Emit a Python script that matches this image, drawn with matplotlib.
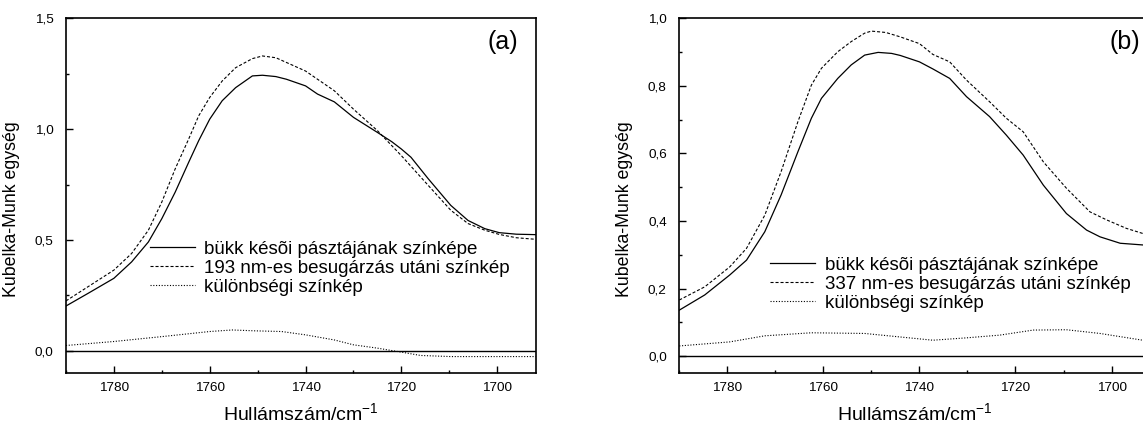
import numpy as np
import matplotlib
matplotlib.use('Agg')
import matplotlib.pyplot as plt
from matplotlib.ticker import MultipleLocator, FuncFormatter

plt.rcParams['font.family'] = ['Liberation Sans', 'DejaVu Sans']
plt.rcParams['mathtext.fontset'] = 'custom'
plt.rcParams['mathtext.rm'] = 'Liberation Sans'
plt.rcParams['mathtext.it'] = 'Liberation Sans:italic'

# panel (a): 193 nm
wn_a_solid = [1790, 1785.4, 1780, 1776.3, 1772.8, 1770, 1767.2, 1764.4, 1762.3, 1760,
              1757.4, 1754.6, 1751.1, 1749, 1746.2, 1744, 1740, 1737.5, 1734, 1730,
              1725, 1722, 1720, 1718, 1714.4, 1709.7, 1706.1, 1702.6, 1699.6, 1696, 1692]
km_a_solid = [0.202, 0.259, 0.327, 0.401, 0.491, 0.596, 0.716, 0.85, 0.948, 1.045,
              1.128, 1.187, 1.24, 1.243, 1.237, 1.225, 1.195, 1.158, 1.123, 1.053,
              0.985, 0.943, 0.91, 0.873, 0.776, 0.656, 0.588, 0.551, 0.533, 0.526, 0.524]

wn_a_dash = [1790, 1785.4, 1780, 1776.3, 1772.8, 1770, 1767.2, 1764.4, 1762.3, 1760,
             1757.4, 1754.6, 1751.1, 1749, 1746.2, 1740, 1734, 1730, 1725, 1720,
             1714.4, 1709.7, 1706.1, 1702.6, 1699.6, 1696, 1692]
km_a_dash = [0.225, 0.289, 0.364, 0.439, 0.544, 0.671, 0.821, 0.955, 1.06, 1.143,
             1.217, 1.277, 1.318, 1.33, 1.322, 1.262, 1.173, 1.09, 0.993, 0.88,
             0.746, 0.634, 0.574, 0.544, 0.525, 0.51, 0.503]

wn_a_diff = [1790, 1780, 1770, 1760, 1755.3, 1750.4, 1745, 1740, 1734, 1730,
             1725, 1720, 1716, 1709.7, 1700, 1692]
km_a_diff = [0.024, 0.042, 0.064, 0.087, 0.094, 0.090, 0.087, 0.072, 0.049, 0.027,
             0.012, -0.006, -0.021, -0.026, -0.026, -0.026]

# panel (b): 337 nm
wn_b_solid = [1790, 1784.7, 1779.5, 1776, 1772.2, 1768.8, 1765.3, 1762.5, 1760.4, 1757,
              1754.2, 1751.4, 1748.6, 1745.8, 1744, 1740, 1737.2, 1733.7, 1730.2, 1725.4,
              1721.9, 1718.4, 1714.2, 1709.4, 1705.2, 1702.4, 1698.2, 1693.5, 1692]
km_b_solid = [0.136, 0.181, 0.24, 0.284, 0.368, 0.477, 0.605, 0.704, 0.763, 0.822,
              0.862, 0.891, 0.899, 0.896, 0.89, 0.871, 0.85, 0.822, 0.768, 0.709,
              0.654, 0.595, 0.506, 0.422, 0.373, 0.353, 0.334, 0.329, 0.328]

wn_b_dash = [1790, 1784.7, 1779.5, 1776, 1772.2, 1768.8, 1765.3, 1762.5, 1760.4, 1757,
             1754.2, 1751.4, 1750, 1747, 1744, 1740, 1737.2, 1733.7, 1730.2, 1725.4,
             1721.9, 1718.4, 1714.2, 1709.4, 1704.5, 1701, 1696.9, 1693.5, 1692]
km_b_dash = [0.166, 0.205, 0.264, 0.319, 0.417, 0.546, 0.694, 0.802, 0.852, 0.901,
             0.931, 0.956, 0.962, 0.958, 0.945, 0.925, 0.893, 0.871, 0.817, 0.753,
             0.704, 0.664, 0.575, 0.497, 0.427, 0.403, 0.378, 0.363, 0.36]

wn_b_diff = [1790, 1779.5, 1772.2, 1762.5, 1751.4, 1744.3, 1737.2, 1730.2, 1723.3, 1716.3,
             1709.4, 1702.4, 1693.5, 1692]
km_b_diff = [0.030, 0.042, 0.06, 0.069, 0.067, 0.057, 0.047, 0.054, 0.062, 0.077,
             0.078, 0.067, 0.047, 0.045]

panels = [
    dict(pos=[0.0577, 0.1224, 0.4109, 0.8346], ylim=(-0.1, 1.5), major=0.5, minor=0.25,
         solid=(wn_a_solid, km_a_solid), dash=(wn_a_dash, km_a_dash), diff=(wn_a_diff, km_a_diff),
         label='193 nm-es besugárzás utáni színkép', tag='(a)', tagx=0.897,
         leg=(0.179, 0.295)),
    dict(pos=[0.5943, 0.1224, 0.4118, 0.8346], ylim=(-0.05, 1.0), major=0.2, minor=0.1,
         solid=(wn_b_solid, km_b_solid), dash=(wn_b_dash, km_b_dash), diff=(wn_b_diff, km_b_diff),
         label='337 nm-es besugárzás utáni színkép', tag='(b)', tagx=0.915,
         leg=(0.193, 0.25)),
]

comma = FuncFormatter(lambda v, p: ('%.1f' % v).replace('.', ','))

fig = plt.figure(figsize=(11.43, 4.25), dpi=100)
for p in panels:
    ax = fig.add_axes(p['pos'])
    ax.plot(*p['solid'], color='black', lw=0.9, ls='-', label='bükk késõi pásztájának színképe')
    ax.plot(*p['dash'], color='black', lw=0.8, ls=(0, (2.75, 1.75)), label=p['label'])
    ax.plot(*p['diff'], color='black', lw=0.8, ls=(0, (1, 1.5)), label='különbségi színkép')
    ax.axhline(0, color='black', lw=1.0)
    ax.set_xlim(1790, 1692)
    ax.set_ylim(*p['ylim'])
    ax.xaxis.set_major_locator(MultipleLocator(20))
    ax.xaxis.set_minor_locator(MultipleLocator(10))
    ax.yaxis.set_major_locator(MultipleLocator(p['major']))
    ax.yaxis.set_minor_locator(MultipleLocator(p['minor']))
    ax.yaxis.set_major_formatter(comma)
    ax.tick_params(which='both', direction='in', width=1.0, top=False, right=False)
    ax.tick_params(which='major', length=4.8)
    ax.tick_params(which='minor', length=2.4)
    ax.tick_params(axis='y', labelsize=9.7, pad=9)
    ax.tick_params(axis='x', labelsize=9.7, pad=6.5)
    for s in ax.spines.values():
        s.set_linewidth(1.2)
    ax.set_ylabel('Kubelka-Munk egység', fontsize=12.8)
    ax.yaxis.set_label_coords(-0.098, 0.462)
    ax.set_xlabel('Hullámszám/cm$^{\\mathregular{-1}}$', fontsize=14, va='baseline')
    ax.xaxis.set_label_coords(0.5, -0.134)
    ax.text(p['tagx'], 0.934, p['tag'], transform=ax.transAxes, fontsize=18,
            ha='left', va='center')
    ax.legend(loc='center left', bbox_to_anchor=p['leg'], frameon=False, fontsize=13.5,
              handlelength=2.4, handletextpad=0.5, labelspacing=0.1,
              borderpad=0, borderaxespad=0)

plt.savefig('out.png', dpi=100)
plt.close()
